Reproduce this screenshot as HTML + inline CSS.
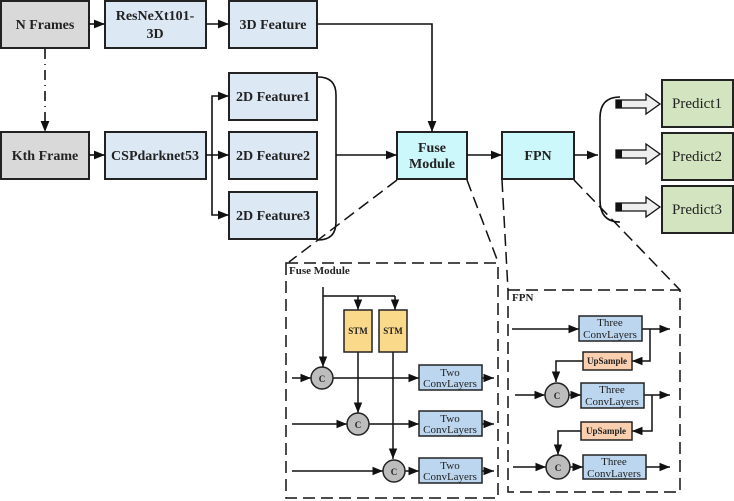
<!DOCTYPE html>
<html><head><meta charset="utf-8"><style>body{margin:0;background:#fff}svg{display:block}text{font-family:"Liberation Serif",serif;fill:#222}</style></head><body>
<svg width="734" height="501" viewBox="0 0 734 501" xmlns="http://www.w3.org/2000/svg">
<defs><marker id="a" viewBox="0 0 10 10" refX="10" refY="5" markerWidth="7" markerHeight="7" orient="auto"><path d="M0,1 L10,5 L0,9z" fill="#111"/></marker></defs>
<g stroke="#222" stroke-width="2">
<rect x="1" y="1" width="88" height="47" fill="#d9d9d9"/>
<rect x="1" y="132" width="88" height="47" fill="#d9d9d9"/>
<rect x="105" y="1" width="101" height="47" fill="#dde8f5"/>
<rect x="105" y="132" width="101" height="47" fill="#dde8f5"/>
<rect x="229" y="1" width="88" height="47" fill="#dde8f5"/>
<rect x="229" y="73" width="88" height="47" fill="#dde8f5"/>
<rect x="229" y="132" width="88" height="47" fill="#dde8f5"/>
<rect x="229" y="192" width="88" height="47" fill="#dde8f5"/>
<rect x="397" y="132" width="70" height="47" fill="#ccf7fb"/>
<rect x="502" y="132" width="72" height="47" fill="#ccf7fb"/>
<rect x="662" y="80" width="71" height="47" fill="#d3e5c0"/>
<rect x="662" y="133" width="71" height="47" fill="#d3e5c0"/>
<rect x="662" y="186" width="71" height="47" fill="#d3e5c0"/>
</g>
<g stroke="#111" stroke-width="1.6" fill="none">
<line x1="89" y1="24" x2="105" y2="24" marker-end="url(#a)"/>
<line x1="206" y1="24" x2="229" y2="24" marker-end="url(#a)"/>
<line x1="89" y1="155" x2="105" y2="155" marker-end="url(#a)"/>
<line x1="206" y1="155" x2="229" y2="155" marker-end="url(#a)"/>
<path d="M212,155 V96 H229" marker-end="url(#a)"/>
<path d="M212,155 V215 H229" marker-end="url(#a)"/>
<line x1="45" y1="49" x2="45" y2="132" stroke-dasharray="10,5,1,5" marker-end="url(#a)"/>
<path d="M317,24 H432 V132" marker-end="url(#a)"/>
<path d="M318,77 Q336,77 336,95 V222 Q336,240 318,240"/>
<line x1="336" y1="155" x2="397" y2="155" marker-end="url(#a)"/>
<line x1="467" y1="155" x2="502" y2="155" marker-end="url(#a)"/>
<line x1="574" y1="155" x2="598" y2="155" marker-end="url(#a)"/>
<path d="M620,97 Q600,97 600,118 V200 Q600,222 620,222"/>
</g>
<g stroke="#111" stroke-width="1.5" stroke-dasharray="12,6" fill="none">
<line x1="397" y1="180" x2="289" y2="262"/>
<line x1="467" y1="180" x2="498" y2="262"/>
<line x1="502" y1="180" x2="508" y2="290"/>
<line x1="574" y1="180" x2="680" y2="290"/>
<rect x="286" y="263" width="212" height="235"/>
<rect x="508" y="290" width="172" height="202"/>
</g>
<g stroke="#111" stroke-width="1.3">
<g fill="#eee"><path d="M616,100 h30 v-6 l14,10 l-14,10 v-6 h-30z"/><path d="M616,150 h30 v-6 l14,10 l-14,10 v-6 h-30z"/><path d="M616,203 h30 v-6 l14,10 l-14,10 v-6 h-30z"/></g>
</g>
<g fill="#111"><rect x="616" y="100" width="6" height="8"/><rect x="616" y="150" width="6" height="8"/><rect x="616" y="203" width="6" height="8"/></g>
<g font-size="14" text-anchor="middle" font-weight="bold">
<text x="45" y="29">N Frames</text><text x="45" y="160">Kth Frame</text>
<text x="155" y="20">ResNeXt101-</text><text x="155" y="38">3D</text>
<text x="155" y="160">CSPdarknet53</text>
<text x="273" y="29">3D Feature</text><text x="273" y="101">2D Feature1</text><text x="273" y="160">2D Feature2</text><text x="273" y="220">2D Feature3</text>
<text x="432" y="152">Fuse</text><text x="432" y="168">Module</text><text x="538" y="160">FPN</text>
</g>
<g font-size="15" text-anchor="middle">
<text x="697" y="108">Predict1</text><text x="697" y="161">Predict2</text><text x="697" y="214">Predict3</text>
</g>
<g stroke="#111" stroke-width="1.5" fill="none">
<path d="M323,287 V367" marker-end="url(#a)"/>
<path d="M323,296 H395"/>
<line x1="358" y1="296" x2="358" y2="310" marker-end="url(#a)"/>
<line x1="395" y1="296" x2="395" y2="310" marker-end="url(#a)"/>
<line x1="358" y1="352" x2="358" y2="413" marker-end="url(#a)"/>
<line x1="393" y1="352" x2="393" y2="459" marker-end="url(#a)"/>
<line x1="292" y1="378" x2="311" y2="378" marker-end="url(#a)"/>
<line x1="333" y1="378" x2="419" y2="378" marker-end="url(#a)"/>
<line x1="292" y1="424" x2="347" y2="424" marker-end="url(#a)"/>
<line x1="369" y1="424" x2="419" y2="424" marker-end="url(#a)"/>
<line x1="292" y1="471" x2="383" y2="471" marker-end="url(#a)"/>
<line x1="404" y1="471" x2="419" y2="471" marker-end="url(#a)"/>
<line x1="482" y1="378" x2="494" y2="378" marker-end="url(#a)"/>
<line x1="482" y1="424" x2="494" y2="424" marker-end="url(#a)"/>
<line x1="482" y1="471" x2="494" y2="471" marker-end="url(#a)"/>
</g>
<g stroke="#222" stroke-width="1.5">
<rect x="344" y="310" width="28" height="42" fill="#fbd98a"/><rect x="379" y="310" width="28" height="42" fill="#fbd98a"/>
<circle cx="322" cy="378" r="11" fill="#bdbdbd"/><circle cx="358" cy="424" r="11" fill="#bdbdbd"/><circle cx="394" cy="471" r="11" fill="#bdbdbd"/>
<rect x="419" y="365" width="63" height="25" fill="#bcd6ef"/><rect x="419" y="411" width="63" height="25" fill="#bcd6ef"/><rect x="419" y="458" width="63" height="25" fill="#bcd6ef"/>
</g>
<g font-size="9" text-anchor="middle" font-weight="bold"><text x="358" y="334">STM</text><text x="393" y="334">STM</text><text x="322" y="382">C</text><text x="358" y="428">C</text><text x="394" y="475">C</text></g>
<g font-size="11" text-anchor="middle"><text x="450" y="376">Two</text><text x="450" y="387">ConvLayers</text><text x="450" y="422">Two</text><text x="450" y="433">ConvLayers</text><text x="450" y="469">Two</text><text x="450" y="480">ConvLayers</text></g>
<text x="289" y="274" font-size="11" font-weight="bold">Fuse Module</text>
<g stroke="#111" stroke-width="1.5" fill="none">
<line x1="512" y1="329" x2="579" y2="329" marker-end="url(#a)"/>
<line x1="642" y1="329" x2="670" y2="329" marker-end="url(#a)"/>
<path d="M650,329 V361 H632" marker-end="url(#a)"/>
<path d="M583,361 H556 V382" marker-end="url(#a)"/>
<line x1="515" y1="395" x2="545" y2="395" marker-end="url(#a)"/>
<line x1="569" y1="395" x2="581" y2="395" marker-end="url(#a)"/>
<line x1="644" y1="395" x2="670" y2="395" marker-end="url(#a)"/>
<path d="M652,395 V431 H632" marker-end="url(#a)"/>
<path d="M581,431 H558 V455" marker-end="url(#a)"/>
<line x1="513" y1="467" x2="546" y2="467" marker-end="url(#a)"/>
<line x1="570" y1="467" x2="583" y2="467" marker-end="url(#a)"/>
<line x1="646" y1="467" x2="670" y2="467" marker-end="url(#a)"/>
</g>
<g stroke="#222" stroke-width="1.5">
<rect x="579" y="316" width="63" height="25" fill="#bcd6ef"/><rect x="581" y="383" width="63" height="25" fill="#bcd6ef"/><rect x="583" y="455" width="63" height="24" fill="#bcd6ef"/>
<rect x="583" y="352" width="49" height="18" fill="#f9cfb0"/><rect x="581" y="422" width="51" height="18" fill="#f9cfb0"/>
<circle cx="557" cy="395" r="12" fill="#bdbdbd"/><circle cx="558" cy="467" r="12" fill="#bdbdbd"/>
</g>
<g font-size="11" text-anchor="middle"><text x="610" y="326">Three</text><text x="610" y="338">ConvLayers</text><text x="612" y="393">Three</text><text x="612" y="405">ConvLayers</text><text x="614" y="465">Three</text><text x="614" y="477">ConvLayers</text></g>
<g font-size="9" text-anchor="middle" font-weight="bold"><text x="607" y="364">UpSample</text><text x="606" y="434">UpSample</text><text x="557" y="399">C</text><text x="558" y="471">C</text></g>
<text x="512" y="301" font-size="11" font-weight="bold">FPN</text>
</svg>
</body></html>
